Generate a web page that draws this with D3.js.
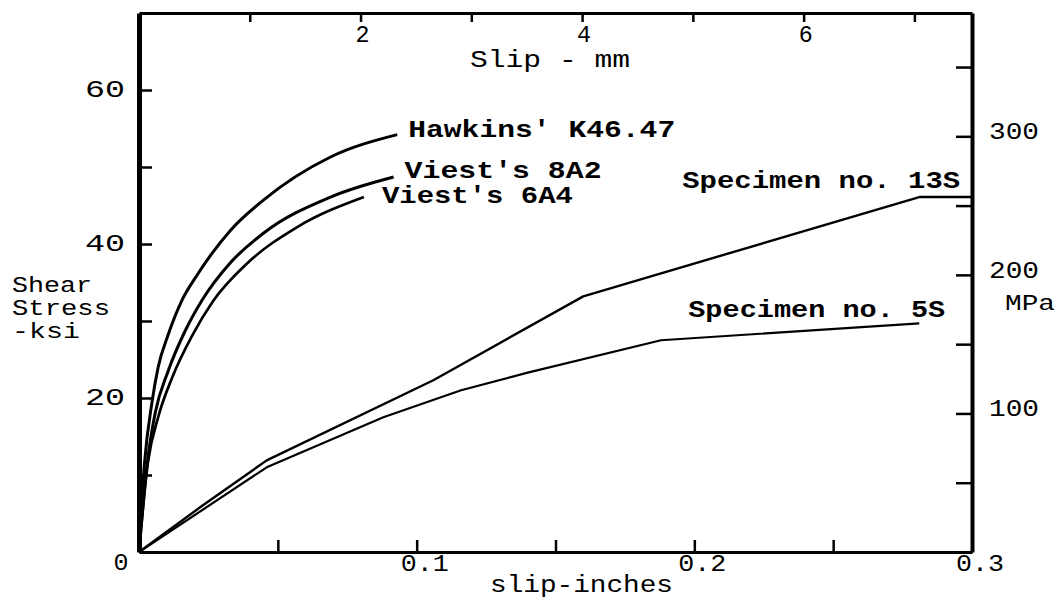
<!DOCTYPE html>
<html lang="en">
<head>
  <meta charset="UTF-8" />
  <title>Shear stress vs slip</title>
  <style>
    body { margin: 0; background: #fff; }
    svg { display: block; }
    text { font-family: "Courier New", "Liberation Mono", monospace; fill: #000; }
  </style>
</head>
<body>
  <svg id="chart" width="1060" height="600"></svg>

  <script src="https://d3js.org/d3.v7.min.js"></script>
  <script>
    // curve data, slip in inches, stress in ksi
    const hawkinsX = [0, 0.002, 0.0047, 0.0069, 0.0105, 0.0155, 0.021, 0.033, 0.0448, 0.069, 0.093];
    const hawkinsY = [0, 11.6, 19.5, 24, 28.2, 32.7, 36.0, 41.8, 45.7, 51.3, 54.2];

    const viest8X = [0, 0.003, 0.0058, 0.0105, 0.0166, 0.0227, 0.033, 0.0448, 0.069, 0.0917];
    const viest8Y = [0, 11.6, 18, 23.5, 28.7, 32.7, 37.6, 41.4, 46.1, 48.7];

    const viest6X = [0, 0.0032, 0.0069, 0.012, 0.019, 0.0267, 0.039, 0.057, 0.081];
    const viest6Y = [0, 11.6, 17.5, 22.7, 28, 32.6, 37.5, 42.2, 46.1];

    const spec13X = [0, 0.022, 0.046, 0.106, 0.16, 0.281, 0.3];
    const spec13Y = [0, 5.8, 11.9, 22.3, 33.2, 46.1, 46.1];

    const spec5X = [0, 0.046, 0.088, 0.116, 0.14, 0.188, 0.281];
    const spec5Y = [0, 11, 17.5, 21, 23.3, 27.5, 29.7];

    // axis ticks
    const inchTicks = [0.05, 0.1, 0.15, 0.2, 0.25];
    const inchLabels = [0.1, 0.2, 0.3];
    const ksiTicks = [10, 20, 30, 40, 50, 60];
    const ksiLabels = [20, 40, 60];
    const mpaTicks = [50, 100, 150, 200, 250, 300, 350];
    const mpaLabels = [100, 200, 300];
    const mmTicks = [1, 2, 3, 4, 5, 6, 7];
    const mmLabels = [2, 4, 6];

    // axis extents as printed on the figure
    const ksiMax = 70, mpaMax = 389, inchMax = 0.3, mmMax = 7.52;

    const svg = d3.select("#chart");
    const plotL = 139, plotR = 972, plotT = 13, plotB = 552;

    const x = d3.scaleLinear().domain([0, inchMax]).range([plotL, plotR]);
    const y = d3.scaleLinear().domain([0, ksiMax]).range([plotB, plotT]);
    const yMpa = d3.scaleLinear().domain([0, mpaMax]).range([plotB, plotT]);
    const xMm = d3.scaleLinear().domain([0, mmMax]).range([plotL, plotR]);

    // text helper, stretched a bit to look like the typed original
    function label(px, py, s, size, width, anchor, bold) {
      const t = svg.append("text")
        .attr("x", px)
        .attr("y", py)
        .attr("font-size", size + "px")
        .attr("text-anchor", anchor || "start")
        .text(s);
      if (bold) t.attr("font-weight", "bold");
      if (width) t.attr("textLength", width).attr("lengthAdjust", "spacingAndGlyphs");
      return t;
    }

    // axes (ticks point inward, labels drawn by hand below)
    function styleAxis(g, w) {
      g.select(".domain").attr("stroke", "#000").attr("stroke-width", w);
      g.selectAll(".tick line").attr("stroke", "#000").attr("stroke-width", 2.5);
    }

    svg.append("g")
      .attr("transform", `translate(0,${plotB})`)
      .call(d3.axisBottom(x).tickValues(inchTicks).tickSizeInner(-12).tickSizeOuter(0).tickFormat(""))
      .call(g => styleAxis(g, 3));

    svg.append("g")
      .attr("transform", `translate(0,${plotT})`)
      .call(d3.axisTop(xMm).tickValues(mmTicks).tickSizeInner(-9).tickSizeOuter(0).tickFormat(""))
      .call(g => styleAxis(g, 3));

    svg.append("g")
      .attr("transform", `translate(${plotL},0)`)
      .call(d3.axisLeft(y).tickValues(ksiTicks).tickSizeInner(-13).tickSizeOuter(0).tickFormat(""))
      .call(g => styleAxis(g, 5));

    svg.append("g")
      .attr("transform", `translate(${plotR},0)`)
      .call(d3.axisRight(yMpa).tickValues(mpaTicks).tickSizeInner(-16).tickSizeOuter(0).tickFormat(""))
      .call(g => styleAxis(g, 4));

    // tick labels
    inchLabels.forEach(v => label(x(v) + 8, plotB + 19, d3.format(".1f")(v), 24, 48, "middle"));
    label(121, plotB + 18, "0", 24, 15, "middle");
    ksiLabels.forEach(v => label(plotL - 14, y(v) + 7, String(v), 24, 40, "end"));
    mpaLabels.forEach(v => label(plotR + 17, yMpa(v) + 3, String(v), 24, 50, "start"));
    mmLabels.forEach(v => label(xMm(v) + 2, plotT + 29, String(v), 24, 14, "middle"));

    // axis titles
    label(470, 67, "Slip - mm", 24, 160);
    label(490, 592, "slip-inches", 24, 183);
    label(12, 292, "Shear", 22, 80);
    label(12, 315, "Stress", 22, 98);
    label(12, 338, "-ksi", 22, 68);
    label(1005, 310, "MPa", 22, 50);

    // curves
    const zip = (xs, ys) => xs.map((v, i) => [v, ys[i]]);
    const smooth = d3.line().x(d => x(d[0])).y(d => y(d[1])).curve(d3.curveMonotoneX);
    const straight = d3.line().x(d => x(d[0])).y(d => y(d[1]));

    const curves = [
      { pts: zip(hawkinsX, hawkinsY), gen: smooth, w: 3 },
      { pts: zip(viest8X, viest8Y), gen: smooth, w: 3 },
      { pts: zip(viest6X, viest6Y), gen: smooth, w: 2.7 },
      { pts: zip(spec13X, spec13Y), gen: straight, w: 2.4 },
      { pts: zip(spec5X, spec5Y), gen: straight, w: 2.2 }
    ];

    curves.forEach(c => {
      svg.append("path")
        .attr("d", c.gen(c.pts))
        .attr("fill", "none")
        .attr("stroke", "#000")
        .attr("stroke-width", c.w)
        .attr("stroke-linejoin", "round");
    });

    // curve names, placed next to the end of each curve
    const hEnd = hawkinsX.length - 1, v8End = viest8X.length - 1, v6End = viest6X.length - 1;
    label(x(hawkinsX[hEnd]) + 11, y(hawkinsY[hEnd]) + 2, "Hawkins' K46.47", 24, 267, "start", true);
    label(x(viest8X[v8End]) + 11, y(viest8Y[v8End]) + 1, "Viest's 8A2", 24, 197, "start", true);
    label(x(viest6X[v6End]) + 18, y(viest6Y[v6End]) + 6, "Viest's 6A4", 24, 191, "start", true);
    label(x(spec13X[5]) + 41, y(spec13Y[5]) - 9, "Specimen no. 13S", 24, 278, "end", true);
    label(x(spec5X[6]) + 26, y(spec5Y[6]) - 6, "Specimen no. 5S", 24, 257, "end", true);
  </script>
</body>
</html>
